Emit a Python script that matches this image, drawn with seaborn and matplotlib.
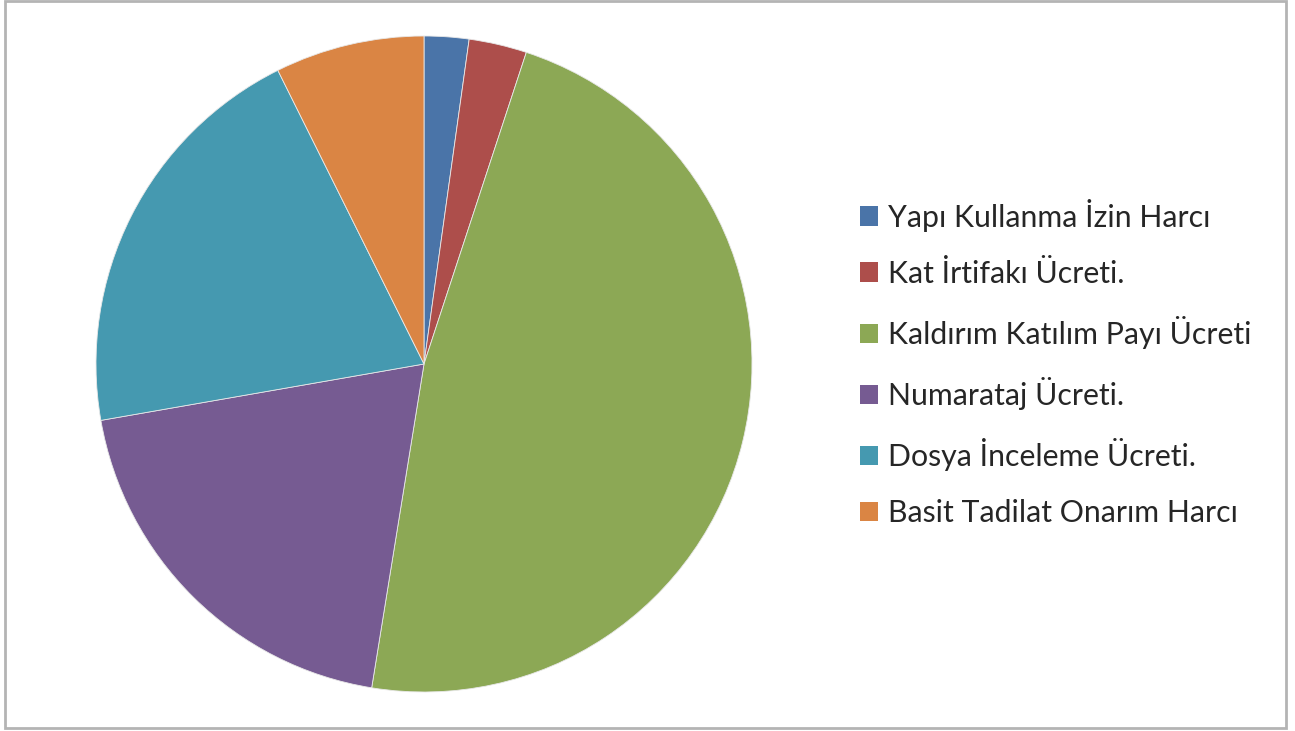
import matplotlib
matplotlib.use("Agg")
import matplotlib.pyplot as plt
from matplotlib.patches import Rectangle, Patch
import seaborn as sns

# Fee categories and their shares (%)
categories = [
    "Yapı Kullanma İzin Harcı",
    "Kat İrtifakı Ücreti.",
    "Kaldırım Katılım Payı Ücreti",
    "Numarataj Ücreti.",
    "Dosya İnceleme Ücreti.",
    "Basit Tadilat Onarım Harcı",
]
shares = [2.2, 2.85, 47.5, 19.7, 20.4, 7.35]
colors = ["#4A74A8", "#AD4E4B", "#8CA855", "#765B92", "#4599B0", "#DA8544"]

sns.set_theme(style="white")
plt.rcParams["font.family"] = ["Lato", "DejaVu Sans"]

W, H = 1295, 731
fig = plt.figure(figsize=(W / 100, H / 100), dpi=100)
fig.patch.set_facecolor("white")

# Pie area: circle of radius 328 px centred at (424, 364)
cx, cy, r = 424, 364, 328
ax = fig.add_axes([(cx - r) / W, (H - cy - r) / H, 2 * r / W, 2 * r / H])
palette = sns.color_palette(colors)
wedges, _ = ax.pie(
    shares,
    colors=palette,
    startangle=90,
    counterclock=False,
    radius=1,
    wedgeprops=dict(edgecolor="#E8E8E8", linewidth=0.6),
)
ax.set_xlim(-1, 1)
ax.set_ylim(-1, 1)
ax.set_aspect("equal")
ax.axis("off")

# Legend on the right
handles = [Patch(facecolor=c, edgecolor="none") for c in palette]
fig.legend(
    handles,
    categories,
    loc="center left",
    bbox_to_anchor=(833 / W, (H - 363) / H),
    frameon=False,
    fontsize=21.8,
    labelcolor="#262626",
    handlelength=0.6,
    handleheight=0.6,
    handletextpad=0.3,
    labelspacing=0.93,
)

# Chart frame
fig.patches.append(
    Rectangle((5 / W, 3 / H), 1281 / W, 727 / H, transform=fig.transFigure,
              fill=False, edgecolor="#B4B4B4", linewidth=2)
)

fig.savefig("out.png", dpi=100)
